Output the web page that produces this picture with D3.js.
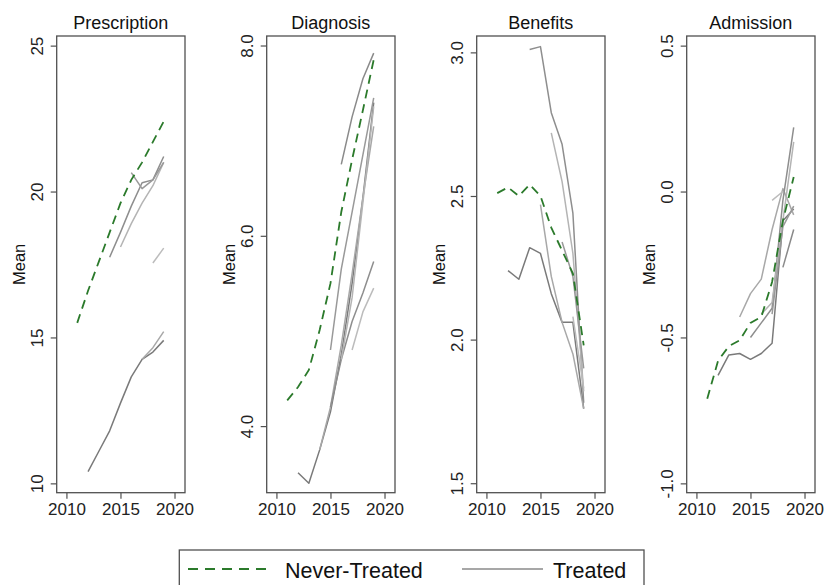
<!DOCTYPE html>
<html>
<head>
<meta charset="utf-8">
<script src="https://cdn.jsdelivr.net/npm/d3@7"></script>
<style>
  html, body { margin: 0; padding: 0; background: #fff; }
  svg { display: block; font-family: Arial, "Liberation Sans", sans-serif; }
</style>
</head>
<body>
<svg id="chart" width="824" height="585"></svg>
<script>
// ---------------- DATA ----------------
const panelTitles = ["Prescription", "Diagnosis", "Benefits", "Admission"];
const xTicks = [2010, 2015, 2020];
const yTickValues = [
  [10, 15, 20, 25],
  [4, 6, 8],
  [1.5, 2.0, 2.5, 3.0],
  [-1.0, -0.5, 0.0, 0.5]
];
const yTickLabels = [
  ["10", "15", "20", "25"],
  ["4.0", "6.0", "8.0"],
  ["1.5", "2.0", "2.5", "3.0"],
  ["-1.0", "-0.5", "0.0", "0.5"]
];
const yDomains = [
  [9.68, 25.33],
  [3.30, 8.10],
  [1.467, 3.057],
  [-1.032, 0.533]
];

// Never-treated means, 2011-2019
const neverYears = [2011, 2012, 2013, 2014, 2015, 2016, 2017, 2018, 2019];
const neverPrescription = [15.5, 16.6, 17.6, 18.6, 19.6, 20.4, 21.0, 21.7, 22.4];
const neverDiagnosis   = [4.27, 4.41, 4.59, 5.01, 5.50, 6.25, 6.80, 7.32, 7.85];
const neverBenefits    = [2.51, 2.53, 2.50, 2.54, 2.50, 2.39, 2.31, 2.23, 1.98];
const neverAdmission   = [-0.71, -0.58, -0.53, -0.51, -0.45, -0.43, -0.31, -0.10, 0.05];

// Treated cohorts: first year + yearly means
const treatedPrescriptionStart = [2012, 2017, 2014, 2015, 2016, 2018];
const treatedPrescription = [
  [10.4, 11.1, 11.8, 12.75, 13.65, 14.25, 14.5, 14.9],
  [14.25, 14.65, 15.2],
  [17.75, 18.6, 19.5, 20.3, 20.4, 21.2],
  [18.1, 18.9, 19.6, 20.2, 21.0],
  [20.65, 20.1, 20.4, 21.0],
  [17.55, 18.06]
];
const treatedDiagnosisStart = [2012, 2014, 2015, 2016, 2015, 2017, 2016];
const treatedDiagnosis = [
  [3.51, 3.40, 3.75, 4.15, 4.75, 5.50, 6.40, 7.40],
  [3.75, 4.20, 4.85, 5.60, 6.40, 7.15],
  [4.20, 4.70, 5.10, 5.40, 5.73],
  [4.70, 5.35, 6.35, 7.36],
  [4.80, 5.65, 6.25, 6.85, 7.45],
  [4.80, 5.20, 5.45],
  [6.75, 7.25, 7.65, 7.92]
];
const treatedBenefitsStart = [2012, 2015, 2014, 2016, 2017, 2018];
const treatedBenefits = [
  [2.24, 2.21, 2.32, 2.30, 2.16, 2.06, 2.06, 1.76],
  [2.47, 2.22, 2.06, 1.95, 1.76],
  [3.01, 3.02, 2.79, 2.68, 2.44, 1.78],
  [2.72, 2.55, 2.30, 1.82],
  [2.34, 2.22, 1.90],
  [2.08, 1.83]
];
const treatedAdmissionStart = [2012, 2014, 2015, 2016, 2017, 2017, 2018];
const treatedAdmission = [
  [-0.63, -0.56, -0.555, -0.575, -0.555, -0.52, -0.10, -0.06],
  [-0.43, -0.35, -0.30, -0.13, 0.01, -0.08],
  [-0.50, -0.45, -0.40, -0.03, 0.22],
  [-0.42, -0.38, -0.10, 0.17],
  [-0.42, -0.12, -0.05],
  [-0.03, 0.00],
  [-0.26, -0.13]
];

const legendLabels = ["Never-Treated", "Treated"];

// ---------------- DRAWING ----------------
const neverSeries = [neverPrescription, neverDiagnosis, neverBenefits, neverAdmission];
const treatedSeries = [treatedPrescription, treatedDiagnosis, treatedBenefits, treatedAdmission];
const treatedStarts = [treatedPrescriptionStart, treatedDiagnosisStart, treatedBenefitsStart, treatedAdmissionStart];

const svg = d3.select("#chart");
const GREEN = "#2b7a2b";
const FRAME = "#505050";
const grayShades = ["#7a7a7a", "#a8a8a8", "#8e8e8e", "#b4b4b4", "#999999", "#bcbcbc", "#8a8a8a"];

const panelLeft0 = 56.7, panelStep = 210, panelW = 128.3;
const plotTop = 36, plotBottom = 492.7;

panelTitles.forEach((title, i) => {
  const left = panelLeft0 + i * panelStep;
  const x = d3.scaleLinear().domain([2009.1, 2020.97]).range([left, left + panelW]);
  const y = d3.scaleLinear().domain(yDomains[i]).range([plotBottom, plotTop]);
  const g = svg.append("g");

  // frame
  g.append("rect")
    .attr("x", left).attr("y", plotTop)
    .attr("width", panelW).attr("height", plotBottom - plotTop)
    .attr("fill", "none").attr("stroke", FRAME).attr("stroke-width", 1.3);

  // x axis
  const xAxis = d3.axisBottom(x).tickValues(xTicks).tickFormat(d3.format("d")).tickSize(6).tickPadding(4);
  const xg = g.append("g").attr("transform", `translate(0,${plotBottom})`).call(xAxis);
  xg.select(".domain").remove();
  xg.selectAll(".tick line").attr("stroke", FRAME).attr("stroke-width", 1.2);
  xg.selectAll(".tick text").attr("font-size", 17).attr("fill", "#222")
    .attr("font-family", "Arial, 'Liberation Sans', sans-serif");

  // y axis
  const labels = yTickLabels[i];
  const yAxis = d3.axisLeft(y).tickValues(yTickValues[i])
    .tickFormat((d, k) => labels[k]).tickSize(6);
  const yg = g.append("g").attr("transform", `translate(${left},0)`).call(yAxis);
  yg.select(".domain").remove();
  yg.selectAll(".tick line").attr("stroke", FRAME).attr("stroke-width", 1.2);
  yg.selectAll(".tick text")
    .attr("font-size", 17).attr("fill", "#222")
    .attr("font-family", "Arial, 'Liberation Sans', sans-serif")
    .attr("x", null).attr("dy", null)
    .attr("text-anchor", "middle")
    .attr("transform", "translate(-13.5,0) rotate(-90)");

  // title
  g.append("text")
    .attr("x", left + panelW / 2).attr("y", 28.5)
    .attr("text-anchor", "middle").attr("font-size", 18).attr("fill", "#111")
    .text(title);

  // y label
  g.append("text")
    .attr("transform", `translate(${left - 31.5},${(plotTop + plotBottom) / 2}) rotate(-90)`)
    .attr("text-anchor", "middle").attr("font-size", 16.5).attr("fill", "#111")
    .text("Mean");

  const line = d3.line().x(d => x(d[0])).y(d => y(d[1]));

  // treated lines
  treatedSeries[i].forEach((vals, k) => {
    const start = treatedStarts[i][k];
    const pts = vals.map((v, j) => [start + j, v]);
    g.append("path")
      .attr("d", line(pts))
      .attr("fill", "none")
      .attr("stroke", grayShades[k % grayShades.length])
      .attr("stroke-width", 1.5)
      .attr("stroke-linejoin", "round");
  });

  // never treated line
  const nPts = neverYears.map((yr, j) => [yr, neverSeries[i][j]]);
  g.append("path")
    .attr("d", line(nPts))
    .attr("fill", "none")
    .attr("stroke", GREEN)
    .attr("stroke-width", 1.8)
    .attr("stroke-dasharray", "9,6");
});

// legend
const lg = svg.append("g");
lg.append("rect")
  .attr("x", 179.3).attr("y", 550).attr("width", 464.7).attr("height", 45)
  .attr("fill", "#fff").attr("stroke", FRAME).attr("stroke-width", 1.3);
lg.append("line")
  .attr("x1", 188).attr("x2", 271).attr("y1", 569).attr("y2", 569)
  .attr("stroke", GREEN).attr("stroke-width", 1.8).attr("stroke-dasharray", "10,7");
lg.append("text").attr("x", 285).attr("y", 578).attr("font-size", 21.5).attr("fill", "#111")
  .text(legendLabels[0]);
lg.append("line")
  .attr("x1", 462).attr("x2", 543).attr("y1", 569).attr("y2", 569)
  .attr("stroke", "#8a8a8a").attr("stroke-width", 1.5);
lg.append("text").attr("x", 553).attr("y", 578).attr("font-size", 21.5).attr("fill", "#111")
  .text(legendLabels[1]);
</script>
</body>
</html>
